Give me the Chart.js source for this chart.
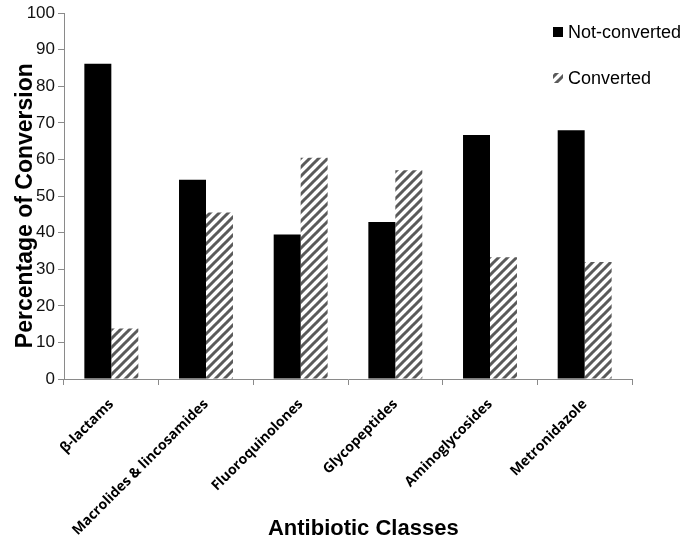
<!DOCTYPE html>
<html>
<head>
<meta charset="utf-8">
<script src="https://cdn.jsdelivr.net/npm/chart.js@4"></script>
<style>
  body { margin: 0; background: #fff; }
  #wrap { width: 685px; height: 542px; }
</style>
</head>
<body>
<div id="wrap"><canvas id="chart-bars" width="685" height="542"></canvas></div>
<script>
var categories = ['β-lactams', 'Macrolides & lincosamides', 'Fluoroquinolones', 'Glycopeptides', 'Aminoglycosides', 'Metronidazole'];
var notConverted = [86.2, 54.5, 39.5, 42.9, 66.7, 68.0];
var converted = [13.8, 45.5, 60.5, 57.1, 33.3, 32.0];
var yMin = 0, yMax = 100, yStep = 10;

// diagonal stripes for the "Converted" bars
function makeHatch() {
    var c = document.createElement('canvas');
    c.width = 9; c.height = 9;
    var g = c.getContext('2d');
    g.fillStyle = '#fff';
    g.fillRect(0, 0, 9, 9);
    g.strokeStyle = '#5a5a5a';
    g.lineWidth = 3;
    g.beginPath();
    g.moveTo(-1, 10); g.lineTo(10, -1);
    g.moveTo(-1, 1); g.lineTo(1, -1);
    g.moveTo(8, 10); g.lineTo(10, 8);
    g.stroke();
    return g.createPattern(c, 'repeat');
}
var hatch = makeHatch();

// legend sits over the top right of the plot, so draw it by hand
var sideLegend = {
    id: 'sideLegend',
    afterDraw: function (chart) {
        var ctx = chart.ctx;
        var rows = [32, 78];
        ctx.save();
        ctx.font = '18px "Liberation Sans", Arial, sans-serif';
        ctx.textBaseline = 'middle';
        chart.data.datasets.forEach(function (ds, i) {
            var y = rows[i];
            ctx.fillStyle = ds.backgroundColor;
            ctx.fillRect(553, y - 5, 10, 10);
            ctx.fillStyle = '#000';
            ctx.fillText(ds.label, 568, y + 1);
        });
        ctx.restore();
    }
};

var ctx = document.getElementById('chart-bars').getContext('2d');
var myChart = new Chart(ctx, {
    type: 'bar',
    data: {
        labels: categories,
        datasets: [
            {
                label: 'Not-converted',
                data: notConverted,
                backgroundColor: '#000',
                borderWidth: 0,
                barPercentage: 1,
                categoryPercentage: 0.57
            },
            {
                label: 'Converted',
                data: converted,
                backgroundColor: hatch,
                borderWidth: 0,
                barPercentage: 1,
                categoryPercentage: 0.57
            }
        ]
    },
    options: {
        responsive: false,
        animation: false,
        layout: {
            padding: { top: 9, right: 53, left: 0, bottom: 0 }
        },
        plugins: {
            legend: { display: false },
            tooltip: { enabled: false }
        },
        scales: {
            x: {
                offset: true,
                border: { display: true, color: '#8a8a8a', width: 1 },
                grid: {
                    offset: true,
                    display: true,
                    drawOnChartArea: false,
                    drawTicks: true,
                    tickLength: 6,
                    color: '#8a8a8a'
                },
                ticks: {
                    minRotation: 45,
                    maxRotation: 45,
                    autoSkip: false,
                    padding: 11,
                    color: '#000',
                    font: { family: '"Open Sans", sans-serif', size: 14, weight: 'bold' }
                },
                title: {
                    display: true,
                    // leading spaces nudge the title right, as in the original
                    text: '     Antibiotic Classes',
                    color: '#000',
                    padding: { top: 0, bottom: 0 },
                    font: { family: '"Liberation Sans", Arial, sans-serif', size: 22, weight: 'bold' }
                },
                afterFit: function (scale) {
                    scale.height = 163;
                }
            },
            y: {
                min: yMin,
                max: yMax,
                border: { display: true, color: '#8a8a8a', width: 1 },
                grid: {
                    display: true,
                    drawOnChartArea: false,
                    drawTicks: true,
                    tickLength: 6,
                    color: '#8a8a8a'
                },
                ticks: {
                    stepSize: yStep,
                    padding: 3,
                    color: '#111',
                    font: { family: '"Liberation Sans", Arial, sans-serif', size: 17 }
                },
                title: {
                    display: true,
                    text: 'Percentage of Conversion   ',
                    color: '#000',
                    padding: { top: 12, bottom: 0 },
                    font: { family: '"Liberation Sans", Arial, sans-serif', size: 23, weight: 'bold' }
                },
                afterFit: function (scale) {
                    scale.width = 64;
                }
            }
        }
    },
    plugins: [sideLegend]
});
</script>
</body>
</html>
